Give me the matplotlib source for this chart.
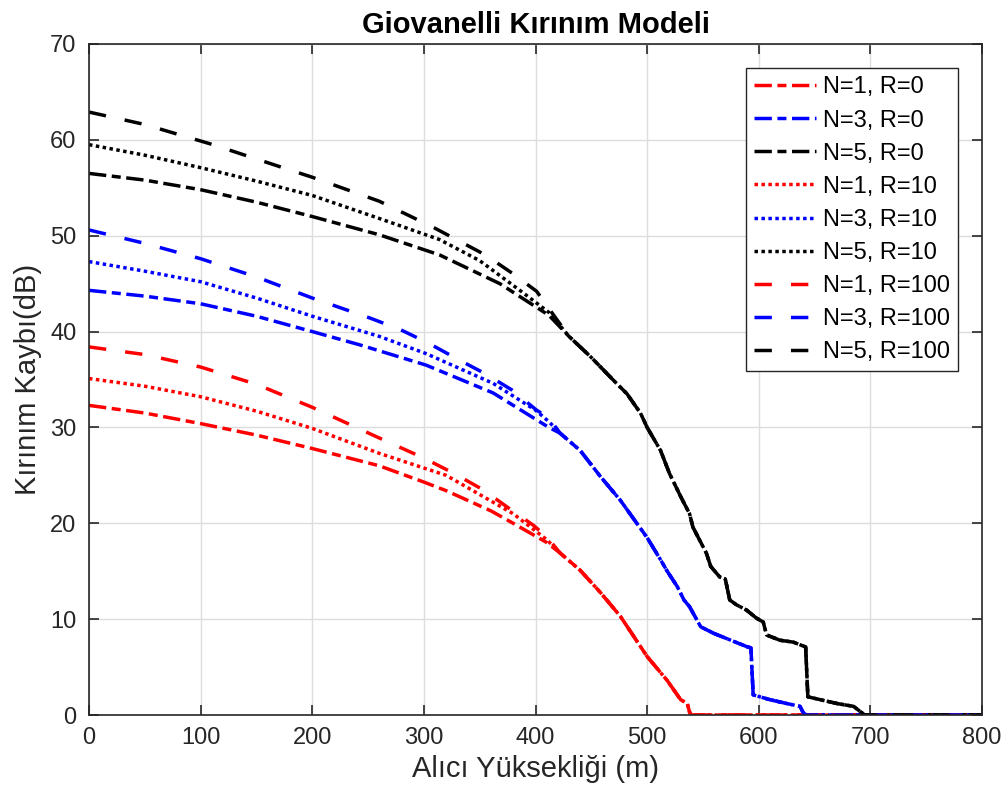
#!/usr/bin/env python3
"""
Giovanelli knife-edge diffraction loss vs. receiver height,
for N = 1, 3, 5 edges and R = 0, 10, 100.
"""

import numpy as np
import matplotlib
matplotlib.use("Agg")
import matplotlib.pyplot as plt

plt.rcParams["font.family"] = ["Liberation Sans", "DejaVu Sans"]

# ── Data ──────────────────────────────────────────────────────────────────────
# N=1 : separate heads per R, then a shared tail
n1_r0_x = [0, 50, 100, 150, 200, 260, 300, 320, 360, 380, 410]
n1_r0_y = [32.3, 31.5, 30.4, 29.2, 27.8, 26.0, 24.3, 23.4, 21.3, 20.0, 18.0]
n1_r10_x = [0, 50, 100, 150, 200, 260, 320, 380, 410]
n1_r10_y = [35.1, 34.3, 33.2, 31.7, 29.9, 27.3, 25.0, 21.0, 18.3]
n1_r100_x = [0, 50, 100, 150, 200, 260, 300, 327, 353, 377, 398, 410]
n1_r100_y = [38.4, 37.6, 36.3, 34.5, 32.1, 28.9, 26.8, 25.2, 23.5, 21.5, 19.8, 18.6]
n1_tail_x = [422, 440, 458, 476, 500, 518, 530, 536, 538, 540, 800]
n1_tail_y = [16.9, 15.1, 12.8, 10.3, 6.1, 3.6, 1.6, 1.2, 0.3, 0.0, 0.0]

# N=3
n3_r0_x = [0, 50, 100, 150, 200, 243, 302, 362, 412]
n3_r0_y = [44.3, 43.7, 42.9, 41.6, 40.0, 38.6, 36.5, 33.6, 30.0]
n3_r10_x = [0, 50, 100, 150, 200, 260, 302, 362, 400, 412]
n3_r10_y = [47.3, 46.3, 45.2, 43.5, 41.6, 39.5, 37.7, 34.6, 31.8, 30.6]
n3_r100_x = [0, 50, 100, 150, 200, 252, 279, 304, 329, 355, 379, 401, 412]
n3_r100_y = [50.6, 49.2, 47.6, 45.7, 43.5, 41.4, 40.2, 38.8, 37.2, 35.6, 33.9, 31.8, 31.0]
n3_tail_x = [422, 440, 458, 476, 500, 512, 518, 527, 533, 538, 548, 560,
             575, 590, 593, 595, 610, 625, 637, 640, 643, 800]
n3_tail_y = [29.4, 27.6, 24.9, 22.4, 18.5, 16.2, 15.0, 13.4, 12.0, 11.3, 9.2, 8.5,
             7.8, 7.1, 7.0, 2.1, 1.6, 1.2, 0.9, 0.2, 0.0, 0.0]

# N=5
n5_r0_x = [0, 50, 100, 150, 200, 260, 314, 368, 412]
n5_r0_y = [56.5, 55.8, 54.8, 53.5, 52.0, 50.1, 48.0, 45.0, 41.7]
n5_r10_x = [0, 50, 100, 150, 200, 260, 314, 350, 386, 412]
n5_r10_y = [59.5, 58.4, 57.1, 55.7, 54.2, 51.8, 49.6, 47.4, 44.3, 42.0]
n5_r100_x = [0, 50, 111, 171, 200, 260, 308, 355, 379, 401, 412]
n5_r100_y = [62.9, 61.6, 59.5, 57.2, 56.1, 53.6, 50.9, 48.0, 46.1, 44.2, 42.4]
n5_tail_x = [430, 450, 470, 482, 494, 500, 512, 520, 530, 538, 541, 553, 557,
             565, 570, 574, 580, 589, 598, 604, 607, 619, 631, 642, 644, 655,
             670, 685, 691, 695, 800]
n5_tail_y = [39.5, 37.3, 34.9, 33.5, 31.5, 30.0, 27.6, 25.2, 22.8, 21.0, 19.6,
             16.9, 15.5, 14.4, 14.2, 12.0, 11.5, 10.95, 10.1, 9.7, 8.35, 7.8,
             7.6, 7.1, 1.9, 1.6, 1.2, 0.9, 0.35, 0.0, 0.0]

labels = ["N=1, R=0", "N=3, R=0", "N=5, R=0",
          "N=1, R=10", "N=3, R=10", "N=5, R=10",
          "N=1, R=100", "N=3, R=100", "N=5, R=100"]

heads = [(n1_r0_x, n1_r0_y), (n3_r0_x, n3_r0_y), (n5_r0_x, n5_r0_y),
         (n1_r10_x, n1_r10_y), (n3_r10_x, n3_r10_y), (n5_r10_x, n5_r10_y),
         (n1_r100_x, n1_r100_y), (n3_r100_x, n3_r100_y), (n5_r100_x, n5_r100_y)]
tails = [(n1_tail_x, n1_tail_y), (n3_tail_x, n3_tail_y), (n5_tail_x, n5_tail_y)] * 3

colors = ["red", "blue", "black"] * 3
dash_dot = (0, (5, 1.6, 2.6, 1.6))
dotted = (0, (1, 1))
dashed = (0, (5, 5.5))
styles = [dash_dot] * 3 + [dotted] * 3 + [dashed] * 3

# ── Plot ──────────────────────────────────────────────────────────────────────
fig = plt.figure(figsize=(10.08, 8.06), dpi=100)
ax = fig.add_axes([89 / 1008, 1 - 715 / 806, (982 - 89) / 1008, (715 - 44) / 806])

dark = "#262626"
for (hx, hy), (tx, ty), c, ls, lab in zip(heads, tails, colors, styles, labels):
    x = np.array(hx + tx, dtype=float)
    y = np.array(hy + ty, dtype=float)
    ax.plot(x, y, color=c, linestyle=ls, linewidth=2.5, label=lab)

ax.set_xlim(0, 800)
ax.set_ylim(0, 70)
ax.set_xticks(np.arange(0, 801, 100))
ax.set_yticks(np.arange(0, 71, 10))
ax.grid(True, color="#dcdcdc", linewidth=1.0)
ax.set_axisbelow(True)
ax.tick_params(direction="in", length=7, width=1.2, colors=dark, labelsize=17,
               top=True, right=True, pad=9)
for sp in ax.spines.values():
    sp.set_color(dark)
    sp.set_linewidth(1.2)

ax.set_title("Giovanelli Kırınım Modeli", fontsize=21, fontweight="bold",
             color="black", pad=8)
ax.set_xlabel("Alıcı Yüksekliği (m)", fontsize=21, color=dark, labelpad=4)
ax.set_ylabel("Kırınım Kaybı(dB)", fontsize=21, color=dark, labelpad=6)

leg = ax.legend(loc="upper right", bbox_to_anchor=(0.973, 0.964), borderaxespad=0,
                fontsize=17, labelspacing=0.47, handlelength=2.6, handletextpad=0.3,
                fancybox=False, framealpha=1, borderpad=0.35)
leg.get_frame().set_edgecolor(dark)
leg.get_frame().set_linewidth(1.0)
for t in leg.get_texts():
    t.set_color("black")

fig.savefig("out.png", dpi=100)
